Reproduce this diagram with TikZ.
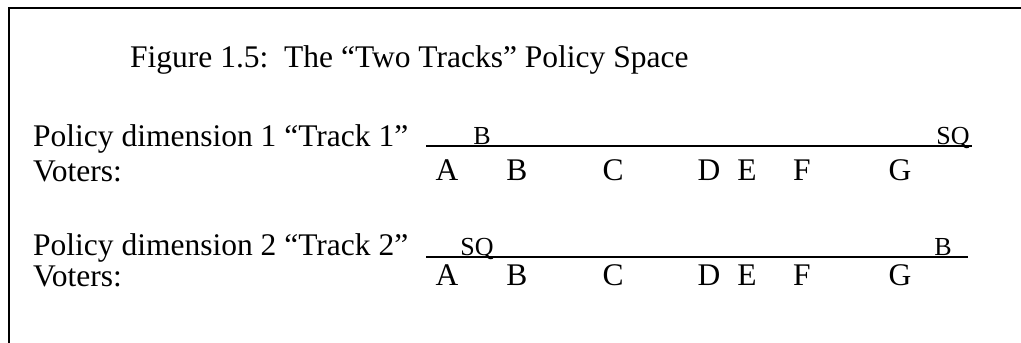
\documentclass[tikz,border=0pt]{standalone}
\usepackage{fontspec}
\setmainfont{Liberation Serif}
\usetikzlibrary{positioning}

\begin{document}
\begin{tikzpicture}[x=1pt,y=-1pt,inner sep=0pt,font=\fontsize{31.5}{36}\selectfont,
 lbl/.style={font=\fontsize{26}{30}\selectfont,anchor=base},
 voter/.style={anchor=base},txt/.style={anchor=base west}]
\useasboundingbox (0,0) rectangle (1021,343);
\draw[line width=2pt](9,343)--(9,8)--(1021,8);
\node[txt](title) at (130,67){Figure 1.5:\ \ The “Two Tracks” Policy Space};
% track 1
\node[txt](dim1) at (33,146){Policy dimension 1 “Track 1”};
\node[txt](vot1) at (33,181){Voters:};
\coordinate(t1s) at (426,146);\coordinate(t1e) at (972,146);
\draw[line width=1.6pt](t1s)--(t1e);
\node[lbl](b1) at (482,144){B};
\node[lbl](sq1) at (953,144){SQ};
% track 2
\node[txt](dim2) at (33,255){Policy dimension 2 “Track 2”};
\node[txt](vot2) at (33,286){Voters:};
\coordinate(t2s) at (426,257);\coordinate(t2e) at (968,257);
\draw[line width=1.6pt](t2s)--(t2e);
\node[lbl](sq2) at (477,255){SQ};
\node[lbl](b2) at (943,255){B};
\foreach \x/\n in {447/A,517/B,613/C,709/D,747/E,802/F,900/G}
 {\node[voter](a\n) at (\x,180){\n};\node[voter](b\n) at (\x,285){\n};}
\end{tikzpicture}
\end{document}
